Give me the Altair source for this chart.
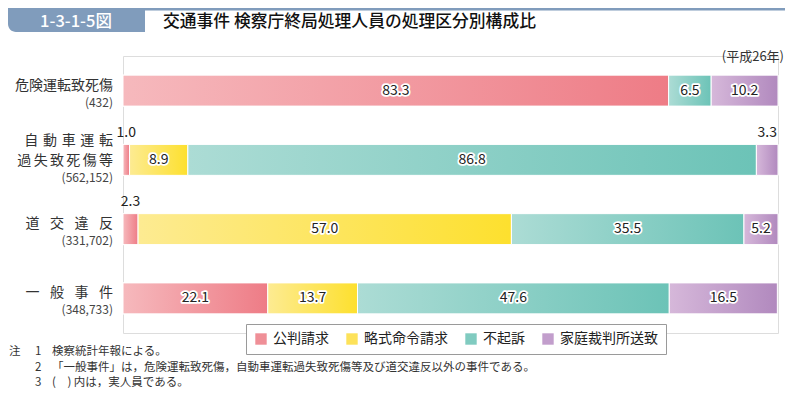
import altair as alt
import pandas as pd

FONT = "Noto Sans CJK JP"

categories = ["危険運転致死傷", "自動車運転過失致死傷等", "道交違反", "一般事件"]
name_line1 = ["危険運転致死傷", "自\u2004動\u2004車\u2004運\u2004転",
              "道\u2002\u2005交\u2002\u2005違\u2002\u2005反", "一\u2002\u2005般\u2002\u2005事\u2002\u2005件"]
name_line2 = ["", "過\u2006失\u2006致\u2006死\u2006傷\u2006等", "", ""]
counts = ["(432)", "(562,152)", "(331,702)", "(348,733)"]

kinds = ["公判請求", "略式命令請求", "不起訴", "家庭裁判所送致"]
kohan = [83.3, 1.0, 2.3, 22.1]
ryakushiki = [0.0, 8.9, 57.0, 13.7]
fukiso = [6.5, 86.8, 35.5, 47.6]
katei = [10.2, 3.3, 5.2, 16.5]

solid_colors = ["#ef8f97", "#fde25a", "#80cbc0", "#c29ecc"]
grad_stops = [
    ("#f6b9bd", "#ee7c86"),
    ("#fdeb92", "#fde02e"),
    ("#acdcd5", "#6cc3b7"),
    ("#d6b8da", "#b189be"),
]

notes_marker = ["注", "", ""]
notes_num = ["1", "2", "3"]
notes_text = [
    "検察統計年報による。",
    "「一般事件」は，危険運転致死傷，自動車運転過失致死傷等及び道交違反以外の事件である。",
    "(\u3000) 内は，実人員である。",
]

rows = []
for i, c in enumerate(categories):
    start = 0.0
    for k, vals in zip(kinds, [kohan, ryakushiki, fukiso, katei]):
        v = vals[i]
        if v > 0:
            rows.append(dict(category=c, kind=k, value=v, start=start, end=start + v,
                             mid=start + v / 2, label=f"{v:.1f}", inside=bool(v >= 4)))
        start += v
seg = pd.DataFrame(rows)
labels_df = pd.DataFrame({"category": categories, "l1": name_line1, "l2": name_line2, "cnt": counts,
                          "two": [s != "" for s in name_line2]})

W, H = 655, 277
yscale = alt.Scale(domain=categories, paddingInner=0.553, paddingOuter=0.2765)
xscale = alt.Scale(domain=[0, 100], nice=False, zero=True)
Y = alt.Y("category:N", scale=yscale, axis=None, sort=categories)
X = alt.X("start:Q", scale=xscale, axis=None)

base = alt.Chart(seg).mark_bar(stroke="white", strokeWidth=1).encode(
    x=X, x2="end:Q", y=Y,
    color=alt.Color("kind:N", scale=alt.Scale(domain=kinds, range=solid_colors),
                    legend=alt.Legend(orient="none", legendX=123, legendY=268, direction="horizontal",
                                      title=None, strokeColor="#9a9a9a", padding=8, fillColor="white",
                                      symbolType="square", symbolSize=130, symbolStrokeWidth=0,
                                      labelFontSize=14, labelFont=FONT, labelColor="#222",
                                      columnPadding=16, labelOffset=5)),
)

grad_layers = []
for k, (c0, c1) in zip(kinds, grad_stops):
    grad_layers.append(
        alt.Chart(seg).transform_filter(alt.datum.kind == k).mark_bar(
            color=alt.Gradient(gradient="linear", x1=0, x2=1, y1=0, y2=0,
                               stops=[alt.GradientStop(color=c0, offset=0),
                                      alt.GradientStop(color=c1, offset=1)]),
            stroke="white", strokeWidth=1,
        ).encode(x=X, x2="end:Q", y=Y)
    )

inside = seg[seg["inside"]]
outside = seg[~seg["inside"]]
MX = alt.X("mid:Q", scale=xscale, axis=None)

halo = alt.Chart(inside).mark_text(font=FONT, fontSize=14, fill="white", stroke="white",
                                   strokeWidth=3.5, strokeJoin="round", baseline="middle").encode(
    x=MX, y=Y, text="label:N")
vals_in = alt.Chart(inside).mark_text(font=FONT, fontSize=14, fill="#222", baseline="middle").encode(
    x=MX, y=Y, text="label:N")
vals_out = alt.Chart(outside).mark_text(font=FONT, fontSize=14, fill="#222", baseline="middle", dy=-27).encode(
    x=MX, y=Y, text="label:N")


def lab(field, two, dy, size, color):
    return alt.Chart(labels_df).transform_filter(alt.datum.two == two).mark_text(
        font=FONT, fontSize=size, fill=color, align="right", baseline="middle", dy=dy
    ).encode(x=alt.value(-10), y=Y, text=f"{field}:N")


label_layers = [
    lab("l1", False, -5, 14, "#333"),
    lab("cnt", False, 12, 12, "#444"),
    lab("l1", True, -19, 14, "#333"),
    lab("l2", True, 1, 14, "#333"),
    lab("cnt", True, 18, 12, "#444"),
]

one = pd.DataFrame({"a": [0]})
HEAD = "#809cbc"
head_box = alt.Chart(one).mark_rect(color=HEAD, cornerRadiusBottomLeft=8).encode(
    x=alt.value(-115), x2=alt.value(22), y=alt.value(-48), y2=alt.value(-24))
head_line = alt.Chart(one).mark_rule(color=HEAD, strokeWidth=2.5).encode(
    x=alt.value(22), x2=alt.value(662), y=alt.value(-46.8))
head_num = alt.Chart(one).mark_text(text="1-3-1-5図", font=FONT, fontSize=16.5, fontWeight=500,
                                    fill="white", align="center", baseline="middle").encode(
    x=alt.value(-47), y=alt.value(-34.5))
head_title = alt.Chart(one).mark_text(text="交通事件 検察庁終局処理人員の処理区分別構成比", font=FONT,
                                      fontSize=16.8, fontWeight=500, fill="#111", align="left",
                                      baseline="middle").encode(x=alt.value(40), y=alt.value(-34.5))
year = alt.Chart(one).mark_text(text="(平成26年)", font=FONT, fontSize=13, fill="#333",
                                align="right", baseline="middle").encode(x=alt.value(661), y=alt.value(1))

notes_df = pd.DataFrame({"m": notes_marker, "n": notes_num, "t": notes_text, "i": [0, 1, 2]})
NY = alt.Y("i:Q", scale=alt.Scale(domain=[0, 2], range=[296, 327]), axis=None)


def note(field, xpos):
    return alt.Chart(notes_df).mark_text(font=FONT, fontSize=11.5, fill="#333", align="left",
                                         baseline="middle").encode(x=alt.value(xpos), y=NY, text=f"{field}:N")


chart = alt.layer(
    head_line, head_box, head_num, head_title, year,
    base, *grad_layers, halo, vals_in, vals_out, *label_layers,
    note("m", -114), note("n", -88), note("t", -71),
).resolve_scale(y="independent").properties(
    width=W, height=H,
    autosize=alt.AutoSizeParams(type="none"),
    padding={"left": 115, "top": 48, "right": 8, "bottom": 70},
).configure_view(strokeWidth=0).configure(font=FONT)

chart.save("out.html", embed_options={"renderer": "svg", "actions": False})
